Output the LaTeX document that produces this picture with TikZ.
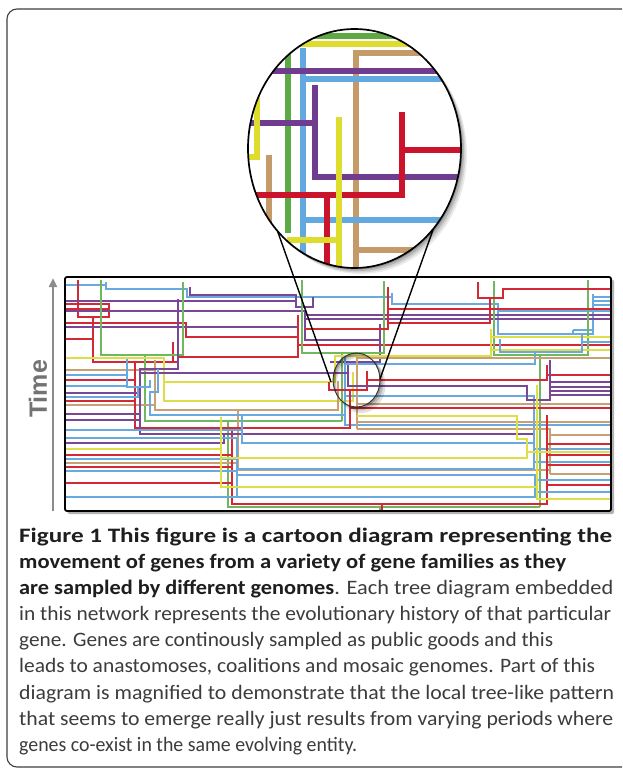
\documentclass[tikz,border=0pt]{standalone}
\usepackage{fontspec}
\setmainfont{Carlito}
\newfontfamily\timefont{Liberation Sans}
\usetikzlibrary{arrows.meta}
\definecolor{cR}{RGB}{212,40,52}
\definecolor{cP}{RGB}{120,72,150}
\definecolor{cB}{RGB}{104,170,224}
\definecolor{cG}{RGB}{112,184,96}
\definecolor{cY}{RGB}{224,222,72}
\definecolor{cT}{RGB}{200,160,116}
\definecolor{lR}{RGB}{201,20,43}
\definecolor{lP}{RGB}{111,60,143}
\definecolor{lB}{RGB}{98,169,223}
\definecolor{lG}{RGB}{93,169,67}
\definecolor{lY}{RGB}{222,220,44}
\definecolor{lT}{RGB}{196,155,104}
\definecolor{txtB}{RGB}{30,30,30}
\definecolor{txtR}{RGB}{60,60,60}
\tikzset{
  net/.style={line width=1.6pt},
  nR/.style={net,draw=cR}, nP/.style={net,draw=cP}, nB/.style={net,draw=cB},
  nG/.style={net,draw=cG}, nY/.style={net,draw=cY}, nT/.style={net,draw=cT},
  lens/.style={line width=6.3pt},
  zR/.style={lens,draw=lR}, zP/.style={lens,draw=lP}, zB/.style={lens,draw=lB},
  zG/.style={lens,draw=lG}, zY/.style={lens,draw=lY}, zT/.style={lens,draw=lT},
  capline/.style={anchor=base west, inner sep=0pt},
  connector/.style={draw=black, line width=1.4pt}
}
\begin{document}
\begin{tikzpicture}[x=1pt,y=-1pt,line join=miter]
\useasboundingbox (0,0) rectangle (622,773);
\begin{scope}
\clip (0,0) rectangle (622,773);
\fill[white] (0,0) rectangle (622,773);
% outer frame
\draw[black!75, line width=1.1pt, rounded corners=10pt] (7,9) rectangle (640,767);

% plot box shadow and fill
\fill[black!30, rounded corners=2pt] (67.5,279.5) rectangle (614,514);
\fill[white] (65,277) rectangle (611,511);

% ---------------- network ----------------
% blue top chain
\draw[nB] (65,285) -| (106,289) -| (187,297) -| (392,304) -| (498,334) -- (593,334) -- (593,294);
\draw[nB] (106,282) -- (106,289);
\draw[nB] (392,293) -- (392,297);
\draw[nB] (573,330) -- (593,330);
\draw[nB] (573,330) -- (573,334);
\draw[nB] (593,297) -- (611,297);
\draw[nB] (593,301) -- (611,301);
\draw[nB] (593,305) -- (611,305);
\draw[nB] (498,311) -- (611,311);
% red top-left tree
\draw[nR] (78,280) |- (109,317) -- (109,304) -- (65,304);
\draw[nR] (65,309) -- (109,309);
\draw[nR] (93,317) |- (178,362) |- (298,357) -- (298,315);
\draw[nR] (173,342) -- (173,362);
\draw[nR] (65,339) -- (93,339);
\draw[nR] (65,323) -| (186,337) -- (298,337);
\draw[nR] (298,345) -- (611,345);
% purple top
\draw[nP] (65,301) -- (296,301);
\draw[nP] (190,287) |- (296,295) |- (313,307) -- (313,297);
\draw[nP] (65,311) -| (305,340) -- (380,340);
\draw[nP] (380,324) |- (330,362);
\draw[nP] (305,315) -- (611,315);
\draw[nP] (305,319) -- (611,319);
\draw[nP] (65,327) -- (297,327);
% green trees
\draw[nG] (101,280) |- (183,355) -- (183,282);
\draw[nG] (145,355) |- (342,421);
\draw[nG] (302,280) |- (384,353) -- (384,281);
\draw[nG] (342,353) -- (342,421);
\draw[nG] (494,281) |- (588,355) -- (588,280);
\draw[nG] (540,355) -- (540,507);
\draw[nG] (228,421) |- (540,507);
\draw[nG] (380,507) -- (380,511);
% red middle / right
\draw[nR] (388,287) -- (388,329) -- (305,329);
\draw[nR] (388,309) -- (611,309);
\draw[nR] (388,323) -| (490,298);
\draw[nR] (478,282) |- (503,298) |- (611,289);
% yellow
\draw[nY] (65,358) -| (164,401) -- (353,401) -- (353,372);
\draw[nY] (164,382) -- (335,382) -- (335,356) -- (491,356) -- (491,329);
\draw[nY] (491,337) -- (611,337);
\draw[nY] (491,350) -- (611,350);
% blue middle
\draw[nB] (345,356) -- (345,425) -- (611,425);
\draw[nB] (345,364) -- (535,364) -- (535,352);
\draw[nB] (500,339) |- (582,352) -- (582,335);
\draw[nB] (582,342) -- (611,342);
\draw[nB] (345,396) -| (534,469);
\draw[nB] (534,449) -- (611,449);
\draw[nB] (534,462) -- (611,462);
% tan
\draw[nT] (357,357) -- (357,429);
\draw[nT] (357,358) -- (611,358);
\draw[nT] (357,404) -- (611,404);
\draw[nT] (357,422) -- (611,422);
\draw[nT] (357,429) -| (550,474);
\draw[nT] (550,435) -- (611,435);
\draw[nT] (550,474) -- (611,474);
\draw[nT] (155,360) |- (338,410) -- (338,381);
\draw[nT] (65,370) -- (155,370);
\draw[nT] (65,405) -- (155,405);
\draw[nT] (238,410) |- (550,470);
\draw[nT] (65,463) -- (238,463);
% red lower
\draw[nR] (135,363) |- (350,428) -- (350,390);
\draw[nR] (65,380) -- (135,380);
\draw[nR] (65,401) -- (135,401);
\draw[nR] (329,382) |- (367,390) -- (367,371);
\draw[nR] (367,380) -| (547,365);
\draw[nR] (548,375) -- (611,375);
\draw[nR] (350,408) -- (611,408);
\draw[nR] (232,428) -- (232,504) -- (547,504) -- (547,415);
\draw[nR] (547,444) -- (611,444);
\draw[nR] (547,455) -- (611,455);
\draw[nR] (547,465) -- (611,465);
\draw[nR] (547,485) -- (611,485);
\draw[nR] (65,455) -- (232,455);
\draw[nR] (65,467) -- (232,467);
\draw[nR] (65,483) -- (232,483);
\draw[nR] (382,504) -- (382,511);
% purple lower
\draw[nP] (178,299) |- (140,369) -- (140,434) -- (533,434);
\draw[nP] (140,373) -- (348,373);
\draw[nP] (348,365) -- (348,386) -- (527,386) -- (527,400) -- (550,400) -- (550,360);
\draw[nP] (550,382) -- (611,382);
\draw[nP] (550,387) -- (611,387);
\draw[nP] (550,391) -- (611,391);
\draw[nP] (550,395) -- (611,395);
\draw[nP] (65,393) -- (140,393);
\draw[nP] (65,414) -- (140,414);
\draw[nP] (65,420) -- (140,420);
\draw[nP] (65,443) -| (224,434);
% blue lower
\draw[nB] (127,359) |- (150,387) -- (150,380);
\draw[nB] (65,375) -- (127,375);
\draw[nB] (65,386) -- (127,386);
\draw[nB] (65,397) -| (138,387);
\draw[nB] (158,369) |- (150,392) |- (345,415);
\draw[nB] (242,415) |- (534,443);
\draw[nB] (65,430) -- (242,430);
\draw[nB] (65,438) -- (237,438);
\draw[nB] (237,438) -- (237,497) -- (535,497) -- (535,475) -- (237,475);
\draw[nB] (237,469) -- (534,469);
\draw[nB] (65,459) -- (237,459);
\draw[nB] (65,471) -- (237,471);
\draw[nB] (65,497) -- (237,497);
\draw[nB] (535,480) -- (611,480);
\draw[nB] (535,492) -- (611,492);
% yellow lower
\draw[nY] (65,449) -- (221,449);
\draw[nY] (221,417) -- (221,487) -- (537,487);
\draw[nY] (537,385) -- (537,499) -- (611,499);
\draw[nY] (221,458) -| (527,439) -| (517,416) -- (357,416);
\draw[nY] (527,452) -- (611,452);

% small magnifier circle with shadow
\fill[black,opacity=0.12,even odd rule] (361,385) ellipse [x radius=24.5,y radius=28] (356.5,380) ellipse [x radius=23.5,y radius=27];
\fill[black,opacity=0.15,even odd rule] (359.5,383) ellipse [x radius=24,y radius=27.5] (356.5,380) ellipse [x radius=23.5,y radius=27];
\fill[black,opacity=0.2,even odd rule] (358,381.5) ellipse [x radius=23.7,y radius=27.2] (356.5,380) ellipse [x radius=23.5,y radius=27];
\draw[black!80, line width=0.9pt] (356.5,380) ellipse [x radius=23.5,y radius=27];

% plot box outline
\draw[black, line width=1.8pt, rounded corners=2pt] (65,277) rectangle (611,511);

% connectors from lens to circle
\coordinate (lensL) at (273.6,220);
\coordinate (lensR) at (436.5,220);
\coordinate (circL) at (331,382);
\coordinate (circR) at (380,379);
\draw[connector] (lensL) -- (circL);
\draw[connector] (lensR) -- (circR);

% big lens ellipse
\foreach \o/\a in {6/0.08,4.5/0.1,3/0.14,1.5/0.18}{
  \fill[black,opacity=\a] (354.5+\o,148.5+\o) ellipse [x radius=106.5,y radius=119.5];
}
\begin{scope}
\clip (354.5,148.5) ellipse [x radius=106.5,y radius=119.5];
\fill[white] (240,20) rectangle (470,280);
\draw[zG] (230,36) -- (480,36);
\draw[zY] (230,44) -- (480,44);
\draw[zG] (288,52) -- (288,233);
\draw[zB] (303,48) -- (303,290);
\draw[zT] (356,290) -- (356,53) -- (480,53);
\draw[zT] (356,250) -- (480,250);
\draw[zP] (230,71) -- (480,71);
\draw[zB] (303,79) -- (480,79);
\draw[zB] (303,220) -- (480,220);
\draw[zP] (230,123) -- (315,123);
\draw[zP] (315,85) -- (315,177) -- (480,177);
\draw[zY] (257,97) -- (257,157) -- (230,157);
\draw[zT] (269,155) -- (269,290);
\draw[zR] (230,195) -- (402,195) -- (402,112);
\draw[zR] (402,150) -- (480,150);
\draw[zR] (327,195) -- (327,290);
\draw[zY] (339,117) -- (339,290);
\draw[zY] (287,240) -- (339,240);
\end{scope}
\draw[black, line width=1.7pt] (354.5,148.5) ellipse [x radius=106.5,y radius=119.5];

% time axis
\coordinate (tBot) at (53,511);
\coordinate (tTop) at (53,278);
\draw[black!45, line width=2.6pt, -{Triangle[width=8pt,length=9pt]}] (tBot) -- (tTop);
\node[rotate=90, text=black!55, font=\timefont\bfseries\fontsize{25}{25}\selectfont, inner sep=0pt] (timelbl) at (38,389) {Time};

% caption
\node[capline] (c1) at (19,542) {\resizebox{593pt}{\height}{\color{txtB}\fontsize{20.5}{24}\selectfont\bfseries Figure 1 This figure is a cartoon diagram representing the}};
\node[capline] (c2) at (19,568) {\resizebox{547pt}{\height}{\color{txtB}\fontsize{20.5}{24}\selectfont\bfseries movement of genes from a variety of gene families as they}};
\node[capline] (c3) at (19,594) {\resizebox{594pt}{\height}{\fontsize{20.5}{24}\selectfont{\color{txtB}\bfseries are sampled by different genomes}\color{txtR}. Each tree diagram embedded}};
\node[capline] (c4) at (19,620) {\resizebox{592pt}{\height}{\color{txtR}\fontsize{20.5}{24}\selectfont in this network represents the evolutionary history of that particular}};
\node[capline] (c5) at (19,646) {\resizebox{534pt}{\height}{\color{txtR}\fontsize{20.5}{24}\selectfont gene. Genes are continously sampled as public goods and this}};
\node[capline] (c6) at (19,672) {\resizebox{576pt}{\height}{\color{txtR}\fontsize{20.5}{24}\selectfont leads to anastomoses, coalitions and mosaic genomes. Part of this}};
\node[capline] (c7) at (19,699) {\resizebox{595pt}{\height}{\color{txtR}\fontsize{20.5}{24}\selectfont diagram is magnified to demonstrate that the local tree-like pattern}};
\node[capline] (c8) at (19,725) {\resizebox{594pt}{\height}{\color{txtR}\fontsize{20.5}{24}\selectfont that seems to emerge really just results from varying periods where}};
\node[capline] (c9) at (19,751) {\resizebox{338pt}{\height}{\color{txtR}\fontsize{20.5}{24}\selectfont genes co-exist in the same evolving entity.}};
\end{scope}
\end{tikzpicture}
\end{document}
